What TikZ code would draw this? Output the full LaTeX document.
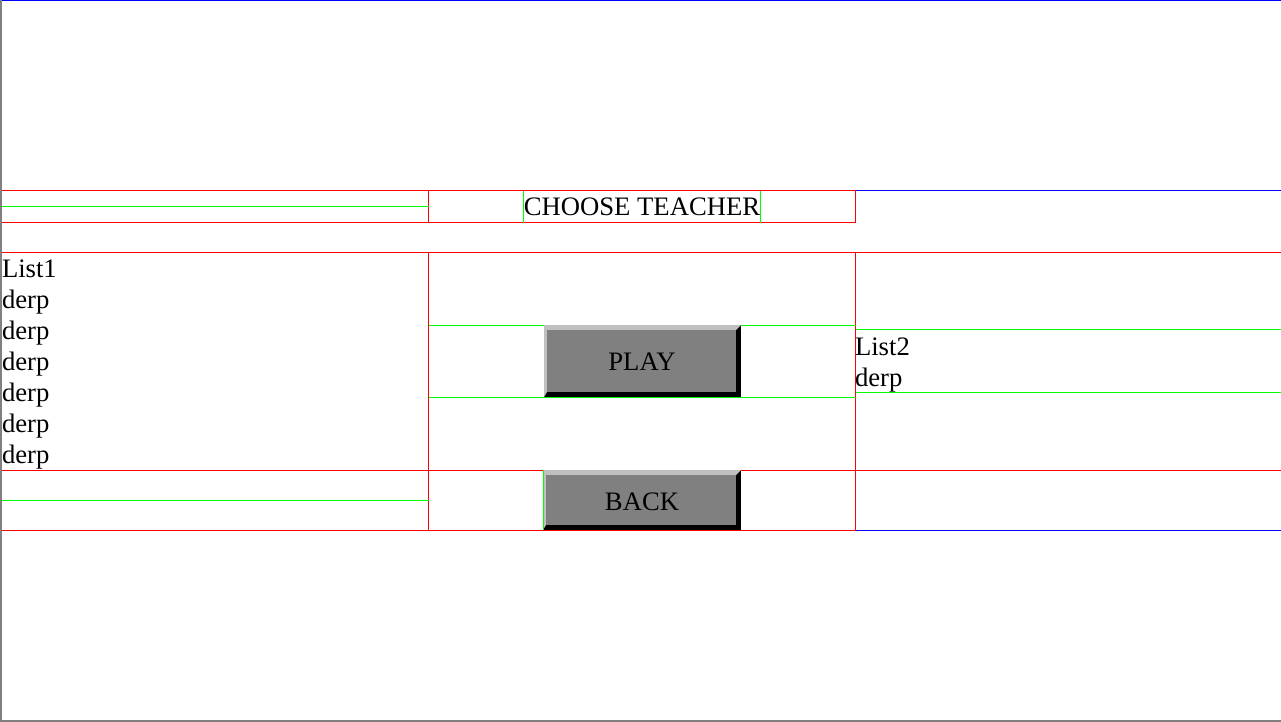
\documentclass[tikz,border=0pt]{standalone}
\usepackage{fontspec}
\setmainfont{Liberation Serif}
\definecolor{webred}{RGB}{255,0,0}
\definecolor{webgreen}{RGB}{0,255,0}
\definecolor{webblue}{RGB}{0,0,255}
\definecolor{framegray}{RGB}{128,128,128}
\definecolor{facegray}{RGB}{128,128,128}
\definecolor{bevelgray}{RGB}{192,192,192}
\tikzset{
	redrule/.style={draw=webred,line width=1pt},
	greenrule/.style={draw=webgreen,line width=1pt},
	bluerule/.style={draw=webblue,line width=1pt},
	pagetext/.style={inner sep=0pt,outer sep=0pt,align=left,font=\fontsize{26.67}{31}\selectfont},
}
\begin{document}
\begin{tikzpicture}[x=1pt,y=-1pt]
	\useasboundingbox (0,0) rectangle (1281,722);
	% frame
	\draw[framegray,line width=2pt] (1,0) -- (1,721) -- (1281,721);
	\draw[bluerule] (2,0.5) -- (1281,0.5);
	% title row
	\draw[redrule] (2,190.5) -- (855.5,190.5) -- (855.5,222.5) -- (2,222.5);
	\draw[redrule] (428.5,190.5) -- (428.5,222.5);
	\draw[greenrule] (2,206.5) -- (428.5,206.5);
	\draw[bluerule] (855.5,190.5) -- (1281,190.5);
	\draw[greenrule] (523.5,190.5) -- (523.5,222.5) (760.5,190.5) -- (760.5,222.5);
	\node[pagetext,anchor=north] (title) at (642,191) {\rule{0pt}{24.5pt}CHOOSE TEACHER};
	% list row
	\draw[redrule] (2,252.5) -- (1281,252.5);
	\draw[redrule] (2,470.5) -- (1281,470.5);
	\draw[redrule] (428.5,252.5) -- (428.5,530.5) (855.5,252.5) -- (855.5,530.5);
	\draw[greenrule] (428.5,325.5) -- (855.5,325.5) (428.5,397.5) -- (855.5,397.5);
	\draw[greenrule] (855.5,329.5) -- (1281,329.5) (855.5,392.5) -- (1281,392.5);
	\node[pagetext,anchor=north west] (list1) at (2,253) {\rule{0pt}{24.5pt}List1\\derp\\derp\\derp\\derp\\derp\\derp};
	\node[pagetext,anchor=north west] (list2) at (855,330.5) {\rule{0pt}{24.5pt}List2\\derp};
	% play button
	\fill[black] (544,325) rectangle (741,397);
	\fill[bevelgray] (544,325) -- (741,325) -- (736,330) -- (547,330) -- (547,392) -- (544,397) -- cycle;
	\fill[facegray] (547,330) rectangle (736,392);
	\node[pagetext,anchor=base] (play) at (642,370) {PLAY};
	% back row
	\draw[redrule] (2,530.5) -- (855.5,530.5);
	\draw[bluerule] (855.5,530.5) -- (1281,530.5);
	\draw[greenrule] (2,500.5) -- (428.5,500.5);
	\fill[black] (543,470) rectangle (741,530);
	\fill[bevelgray] (543,470) -- (741,470) -- (736,475) -- (546,475) -- (546,525) -- (543,530) -- cycle;
	\fill[facegray] (546,475) rectangle (736,525);
	\draw[redrule] (543,530.5) -- (741,530.5);
	\draw[greenrule] (543.5,470) -- (543.5,530);
	\node[pagetext,anchor=base] (back) at (642,510) {BACK};
\end{tikzpicture}
\end{document}
